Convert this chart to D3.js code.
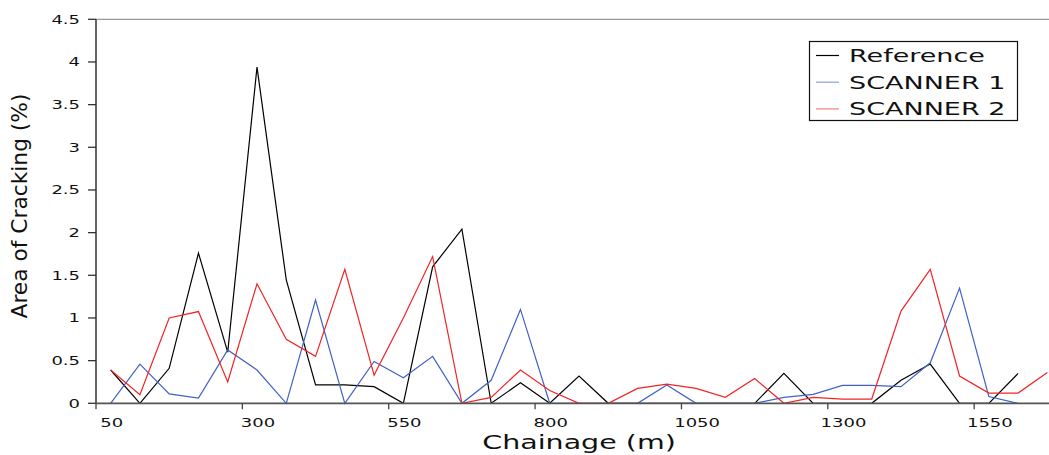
<!DOCTYPE html>
<html>
<head>
<meta charset="utf-8">
<script src="https://cdn.jsdelivr.net/npm/d3@7"></script>
<style>
body { margin: 0; background: #fff; }
text { font-family: "DejaVu Sans", Verdana, sans-serif; }
</style>
</head>
<body>
<script>

// chainage categories (m)
var chainage = [50, 100, 150, 200, 250, 300, 350, 400, 450, 500, 550, 600, 650, 700, 750, 800,
                850, 900, 950, 1000, 1050, 1100, 1150, 1200, 1250, 1300, 1350, 1400, 1450, 1500,
                1550, 1600, 1650];

var reference = [0.39, 0, 0.41, 1.76, 0.60, 3.94, 1.445, 0.215, 0.215, 0.195, 0, 1.6, 2.04, 0, 0.24, 0,
                 0.32, 0, 0, 0, 0, 0, 0, 0.35, 0, 0, 0, 0.27, 0.46, 0, 0, 0.35, null];
var scanner1 = [0, 0.46, 0.11, 0.06, 0.625, 0.39, 0, 1.21, 0, 0.49, 0.30, 0.55, 0, 0.27, 1.10, 0,
                0, 0, 0, 0.215, 0, 0, 0, 0.07, 0.105, 0.21, 0.21, 0.195, 0.475, 1.35, 0.08, 0, null];
var scanner2 = [0.39, 0.1, 1.0, 1.075, 0.25, 1.40, 0.75, 0.55, 1.57, 0.33, 1.0, 1.72, 0, 0.07, 0.39, 0.15,
                0, 0, 0.175, 0.225, 0.175, 0.07, 0.29, 0, 0.07, 0.05, 0.05, 1.08, 1.57, 0.32, 0.12, 0.12, 0.36];

var xLabels = [50, 300, 550, 800, 1050, 1300, 1550];
var yTicks = [0, 0.5, 1, 1.5, 2, 2.5, 3, 3.5, 4, 4.5];

var seriesNames = ["Reference", "SCANNER 1", "SCANNER 2"];
var seriesColors = ["#000000", "#4062c4", "#f22424"];
var series = [reference, scanner1, scanner2];

var W = 1049, H = 455;
var plotLeft = 96, plotRight = 1062, plotTop = 19.3, plotBottom = 403.3;
var SX = 1.5; // text in the picture is stretched sideways

var svg = d3.select("body").append("svg")
    .attr("width", W)
    .attr("height", H);

var x = d3.scalePoint().domain(chainage).range([plotLeft, plotRight]).padding(0.5);
var y = d3.scaleLinear().domain([0, 4.5]).range([plotBottom, plotTop]);
var step = x.step();

// top border of plot area
svg.append("line")
    .attr("x1", plotLeft).attr("x2", W)
    .attr("y1", y(4.5)).attr("y2", y(4.5))
    .attr("stroke", "#999").attr("stroke-width", 1.2);

// series lines
var line = d3.line()
    .defined(function(d) { return d != null; })
    .x(function(d, i) { return x(chainage[i]); })
    .y(function(d) { return y(d); });

for (var s = 0; s < series.length; s++) {
    svg.append("path")
        .attr("d", line(series[s]))
        .attr("fill", "none")
        .attr("stroke", seriesColors[s])
        .attr("stroke-width", 1.2);
}

// y axis
svg.append("line")
    .attr("x1", plotLeft).attr("x2", plotLeft)
    .attr("y1", y(4.5)).attr("y2", y(0))
    .attr("stroke", "#333").attr("stroke-width", 1.5);

yTicks.forEach(function(t) {
    svg.append("line")
        .attr("x1", plotLeft - 8).attr("x2", plotLeft)
        .attr("y1", y(t)).attr("y2", y(t))
        .attr("stroke", "#333").attr("stroke-width", 1.3);
    svg.append("text")
        .attr("transform", "translate(80," + (y(t) + 4.3) + ") scale(" + SX + ",1)")
        .attr("text-anchor", "end")
        .attr("font-size", 12)
        .attr("fill", "#111")
        .text(t);
});

// x axis
svg.append("line")
    .attr("x1", plotLeft).attr("x2", W)
    .attr("y1", y(0)).attr("y2", y(0))
    .attr("stroke", "#555").attr("stroke-width", 1.8);

xLabels.forEach(function(c) {
    var bx = x(c) - step / 2;
    svg.append("line")
        .attr("x1", bx).attr("x2", bx)
        .attr("y1", y(0)).attr("y2", y(0) + 6)
        .attr("stroke", "#444").attr("stroke-width", 1.3);
    svg.append("text")
        .attr("transform", "translate(" + (x(c) + 1) + ",427) scale(" + SX + ",1)")
        .attr("text-anchor", "middle")
        .attr("font-size", 12)
        .attr("fill", "#111")
        .text(c);
});

// axis titles
svg.append("text")
    .attr("transform", "translate(579,449) scale(" + SX + ",1)")
    .attr("text-anchor", "middle")
    .attr("font-size", 19)
    .attr("fill", "#111")
    .text("Chainage (m)");

svg.append("text")
    .attr("transform", "translate(27,206) rotate(-90)")
    .attr("text-anchor", "middle")
    .attr("font-size", 21)
    .attr("textLength", 225)
    .attr("lengthAdjust", "spacingAndGlyphs")
    .attr("fill", "#111")
    .text("Area of Cracking (%)");

// legend
var lg = svg.append("g");
lg.append("rect")
    .attr("x", 809.5).attr("y", 41.5)
    .attr("width", 208).attr("height", 79)
    .attr("fill", "#fff")
    .attr("stroke", "#111").attr("stroke-width", 1.2);

for (var k = 0; k < seriesNames.length; k++) {
    var ly = 55.5 + k * 26.7;
    lg.append("line")
        .attr("x1", 816).attr("x2", 839)
        .attr("y1", ly).attr("y2", ly)
        .attr("stroke", seriesColors[k]).attr("stroke-width", 1.2)
        .attr("opacity", k == 0 ? 1 : 0.6);
    lg.append("text")
        .attr("transform", "translate(849," + (ly + 6.5) + ") scale(" + SX + ",1)")
        .attr("font-size", 18)
        .attr("fill", "#111")
        .text(seriesNames[k]);
}

</script>
</body>
</html>
